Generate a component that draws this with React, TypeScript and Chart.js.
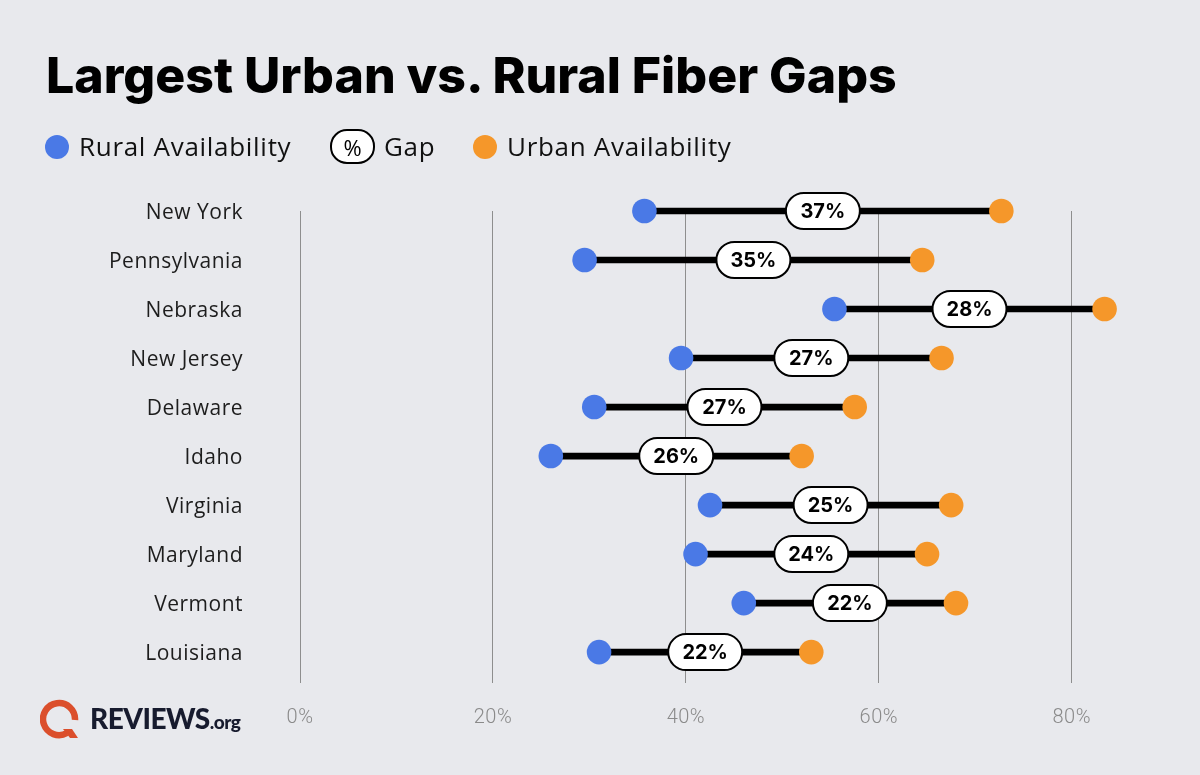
import React, { useEffect, useRef } from "react";
import { Chart, registerables } from "chart.js";

Chart.register(...registerables);

// States, top to bottom
const states = [
  "New York",
  "Pennsylvania",
  "Nebraska",
  "New Jersey",
  "Delaware",
  "Idaho",
  "Virginia",
  "Maryland",
  "Vermont",
  "Louisiana",
];

// Fiber availability (%)
const rural = [35.7, 29.5, 55.4, 39.5, 30.5, 26, 42.5, 41, 46, 31];
const urban = [72.7, 64.5, 83.4, 66.5, 57.5, 52, 67.5, 65, 68, 53];

// Gap between urban and rural availability (%)
const gaps = [37, 35, 28, 27, 27, 26, 25, 24, 22, 22];

const xTicks = [0, 20, 40, 60, 80];

const BLUE = "#4a79e6";
const ORANGE = "#f5972a";
const BG = "#e8e9ed";
const TEXT_FONT = "'Open Sans'";

// Slightly looser tracking for the axis labels
const tracking = {
  id: "tracking",
  beforeDraw(chart: any) {
    chart.ctx.letterSpacing = "0.5px";
  },
};

const gapPills = {
  id: "gapPills",
  afterDatasetsDraw(chart: any) {
    const { ctx, scales } = chart;
    const xs = scales.x;
    const ys = scales.y;
    ctx.save();
    ctx.letterSpacing = "0px";
    gaps.forEach((g, i) => {
      const cx = (xs.getPixelForValue(rural[i]) + xs.getPixelForValue(urban[i])) / 2;
      const cy = ys.getPixelForValue(i);
      const w = 74;
      const h = 36;
      ctx.beginPath();
      ctx.roundRect(cx - w / 2, cy - h / 2, w, h, h / 2);
      ctx.fillStyle = "#ffffff";
      ctx.fill();
      ctx.lineWidth = 2;
      ctx.strokeStyle = "#000000";
      ctx.stroke();
      ctx.fillStyle = "#000000";
      ctx.font = "700 20px Inter";
      ctx.textAlign = "center";
      ctx.textBaseline = "middle";
      ctx.fillText(g + "%", cx, cy + 1);
    });
    ctx.restore();
  },
};

function DumbbellChart() {
  const ref = useRef<HTMLCanvasElement | null>(null);

  useEffect(() => {
    if (!ref.current) return;
    const chart = new Chart(ref.current, {
      type: "bar",
      data: {
        datasets: [
          {
            type: "scatter",
            label: "Rural Availability",
            data: rural.map((v, i) => ({ x: v, y: i })),
            backgroundColor: BLUE,
            borderWidth: 0,
            pointRadius: 12.3,
            clip: false,
            order: 1,
          } as any,
          {
            type: "scatter",
            label: "Urban Availability",
            data: urban.map((v, i) => ({ x: v, y: i })),
            backgroundColor: ORANGE,
            borderWidth: 0,
            pointRadius: 12.3,
            clip: false,
            order: 1,
          } as any,
          {
            type: "bar",
            label: "Gap",
            indexAxis: "y",
            data: rural.map((v, i) => ({ x: [v, urban[i]], y: i })),
            backgroundColor: "#000000",
            barThickness: 6,
            clip: false,
            order: 2,
          } as any,
        ],
      },
      options: {
        animation: false,
        responsive: false,
        devicePixelRatio: 1,
        layout: { padding: { top: 211, right: 80, left: 0, bottom: 0 } },
        plugins: {
          legend: { display: false },
          tooltip: { enabled: false },
        },
        scales: {
          x: {
            type: "linear",
            position: "bottom",
            offset: false,
            min: 0,
            max: 85,
            afterBuildTicks: (s: any) => {
              s.ticks = xTicks.map((v) => ({ value: v }));
            },
            afterFit: (s: any) => {
              s.height = 92;
            },
            grid: { color: "#8e8e8e", lineWidth: 1, drawTicks: false, offset: false },
            border: { display: false },
            ticks: {
              padding: 23,
              color: "#8a8a8a",
              font: { family: "Roboto", size: 20, weight: 300 },
              callback: (v: any) => v + "%",
            },
          },
          y: {
            type: "linear",
            reverse: true,
            offset: false,
            min: 0,
            max: 9.63,
            afterBuildTicks: (s: any) => {
              s.ticks = states.map((_, i) => ({ value: i }));
            },
            afterFit: (s: any) => {
              s.width = 300;
            },
            grid: { display: false, drawTicks: false, offset: false },
            border: { display: false },
            ticks: {
              padding: 57,
              labelOffset: 2,
              color: "#1d1d1d",
              font: { family: "Open Sans", size: 21, weight: 400 },
              callback: (v: any) => states[v as number],
            },
          },
        },
      } as any,
      plugins: [tracking, gapPills],
    });
    return () => chart.destroy();
  }, []);

  return (
    <canvas
      ref={ref}
      width={1200}
      height={775}
      style={{ position: "absolute", left: 0, top: 0, width: 1200, height: 775 }}
    />
  );
}

function Logo() {
  return (
    <div style={{ position: "absolute", left: 40, top: 696, display: "flex", alignItems: "center" }}>
      <svg width="42" height="44" viewBox="0 0 42 44">
        <path
          d="M 27 37 A 16 16 0 1 1 35 24"
          fill="none"
          stroke="#db4f2c"
          strokeWidth="6.5"
          strokeLinecap="butt"
        />
        <path d="M 23 33 L 30 42 L 38 42 L 32 33 Z" fill="#db4f2c" />
      </svg>
      <span
        style={{
          marginLeft: 8,
          fontFamily: "Lato",
          fontWeight: 900,
          fontSize: 28,
          color: "#171b2e",
          letterSpacing: -0.5,
        }}
      >
        REVIEWS
        <span style={{ fontSize: 19, fontWeight: 900 }}>.org</span>
      </span>
    </div>
  );
}

const legendText: React.CSSProperties = {
  position: "absolute",
  top: 128,
  lineHeight: "36px",
  fontFamily: TEXT_FONT,
  fontSize: 26,
  letterSpacing: 0.7,
  color: "#111",
  whiteSpace: "nowrap",
};

export default function App() {
  return (
    <div
      style={{
        position: "absolute",
        left: 0,
        top: 0,
        width: 1200,
        height: 775,
        background: BG,
        overflow: "hidden",
      }}
    >
      <DumbbellChart />
      <div
        style={{
          position: "absolute",
          left: 46,
          top: 45,
          fontFamily: "Inter",
          fontWeight: 800,
          fontSize: 50,
          lineHeight: "60px",
          color: "#000",
          whiteSpace: "nowrap",
        }}
      >
        Largest Urban vs. Rural Fiber Gaps
      </div>
      <span
        style={{ position: "absolute", left: 45, top: 135, width: 24, height: 24, borderRadius: 12, background: BLUE }}
      />
      <span style={{ ...legendText, left: 79 }}>Rural Availability</span>
      <span
        style={{
          position: "absolute",
          left: 330,
          top: 129,
          width: 41,
          height: 31,
          border: "2px solid #000",
          borderRadius: 17,
          background: "#fff",
          display: "flex",
          alignItems: "center",
          justifyContent: "center",
          fontFamily: TEXT_FONT,
          fontSize: 22,
          color: "#000",
        }}
      >
        %
      </span>
      <span style={{ ...legendText, left: 384 }}>Gap</span>
      <span
        style={{ position: "absolute", left: 473, top: 135, width: 24, height: 24, borderRadius: 12, background: ORANGE }}
      />
      <span style={{ ...legendText, left: 507 }}>Urban Availability</span>
      <Logo />
    </div>
  );
}
